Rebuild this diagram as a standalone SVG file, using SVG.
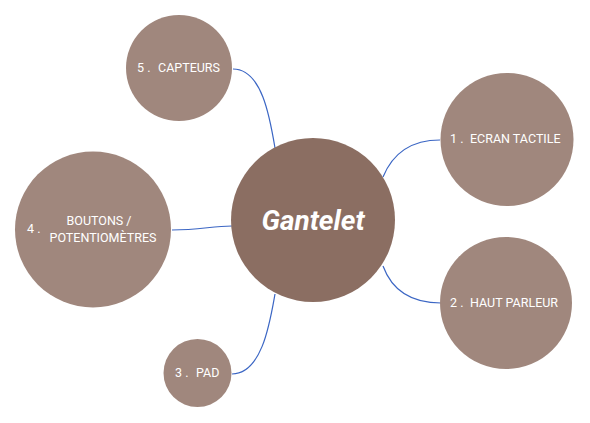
<svg xmlns="http://www.w3.org/2000/svg" width="590" height="423" viewBox="0 0 590 423">
<style>
.sub{fill:#A0877D}
.main{fill:#8B6E62}
.lbl{font-family:Roboto,"Liberation Sans",sans-serif;font-size:12.5px;fill:#FFFFFF}
.num{font-family:Roboto,"Liberation Sans",sans-serif;font-size:12.5px;fill:#FFFFFF}
.title{font-family:Roboto,"Liberation Sans",sans-serif;font-size:28px;font-weight:bold;font-style:italic;fill:#FFFFFF}
.conn{fill:none;stroke:#3B66C4;stroke-width:1.2}
</style>
<rect width="590" height="423" fill="#FFFFFF"/>
<g id="connectors">
<path class="conn" d="M233,69 C262,69 270,118 275,148"/>
<path class="conn" d="M440,140 C405,140 390,160 383,177"/>
<path class="conn" d="M172,230 C200,230 212,226 232,226"/>
<path class="conn" d="M441,303 C405,303 390,285 383,266"/>
<path class="conn" d="M232,374 C262,374 270,322 275,294"/>
</g>
<g id="node-center">
<circle class="main" cx="313" cy="220" r="82"/>
<text class="title" x="313" y="230" text-anchor="middle">Gantelet</text>
</g>
<g id="node-5">
<circle class="sub" cx="179" cy="68" r="53"/>
<text class="num" x="137" y="72">5 .</text>
<text class="lbl" x="158" y="72">CAPTEURS</text>
</g>
<g id="node-1">
<circle class="sub" cx="507" cy="139.5" r="66.5"/>
<text class="num" x="450" y="143">1 .</text>
<text class="lbl" x="470" y="143">ECRAN TACTILE</text>
</g>
<g id="node-4">
<circle class="sub" cx="93" cy="229.5" r="78"/>
<text class="num" x="27" y="233">4 .</text>
<text class="lbl" x="99" y="225" text-anchor="middle">BOUTONS /</text>
<text class="lbl" x="103" y="242" text-anchor="middle">POTENTIOMÈTRES</text>
</g>
<g id="node-2">
<circle class="sub" cx="506" cy="303" r="66"/>
<text class="num" x="450" y="307">2 .</text>
<text class="lbl" x="470" y="307">HAUT PARLEUR</text>
</g>
<g id="node-3">
<circle class="sub" cx="197.5" cy="373" r="34"/>
<text class="num" x="175" y="377">3 .</text>
<text class="lbl" x="196" y="377">PAD</text>
</g>
</svg>
